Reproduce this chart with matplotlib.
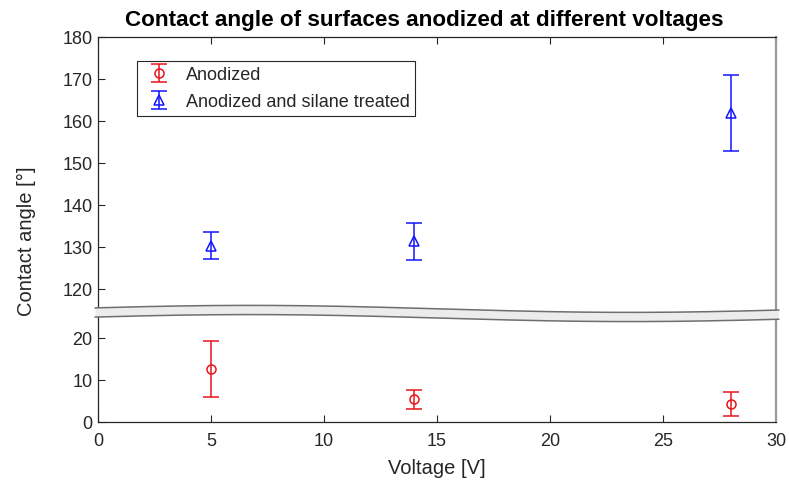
import numpy as np
import matplotlib
matplotlib.use("Agg")
import matplotlib.pyplot as plt
from matplotlib.patches import Polygon

plt.rcParams['font.family'] = ['Liberation Sans', 'DejaVu Sans']

# data
voltage = [5, 14, 28]
anodized = [12.7, 5.5, 4.4]
anodized_err = [6.6, 2.3, 2.8]
silane = [130.3, 131.4, 162.0]
silane_err = [3.2, 4.4, 9.0]

xticks = [0, 5, 10, 15, 20, 25, 30]
yticks = [0, 10, 20, 120, 130, 140, 150, 160, 170, 180]

# broken y axis: 25..115 squeezed into a small band
brk_in = [-1000, 25, 115, 1000]
brk_out = [-1000, 25, 26.76, 1000 - 88.24]

def fwd(y):
    return np.interp(y, brk_in, brk_out)

def inv(y):
    return np.interp(y, brk_out, brk_in)

dark = '#262626'
fig = plt.figure(figsize=(7.89, 4.90), dpi=100)
ax = fig.add_axes([0.1242, 0.1382, 0.8593, 0.7857])
ax.set_yscale('function', functions=(fwd, inv))

ax.errorbar(voltage, anodized, yerr=anodized_err, fmt='o', color='#e8141c',
            mfc='none', ms=6.5, mew=1.1, lw=1.1, capsize=6, capthick=1.1,
            label='Anodized')
ax.errorbar(voltage, silane, yerr=silane_err, fmt='^', color='#1414ff',
            mfc='none', ms=7.5, mew=1.1, lw=1.1, capsize=6, capthick=1.1,
            label='Anodized and silane treated')

ax.set_xlim(0, 30)
ax.set_ylim(0, 180)
ax.set_xticks(xticks)
ax.set_yticks(yticks)
ax.minorticks_off()
ax.tick_params(axis='x', direction='in', top=True, length=5, width=0.8,
               colors=dark, labelsize=13, pad=8)
ax.tick_params(axis='y', direction='in', right=False, length=5, width=0.8,
               colors=dark, labelsize=13, pad=4)
for s in ['left', 'bottom', 'top']:
    ax.spines[s].set_color(dark)
    ax.spines[s].set_linewidth(0.9)
ax.spines['right'].set_color('#9a9a9a')
ax.spines['right'].set_linewidth(1.6)

ax.set_xlabel('Voltage [V]', fontsize=14.5, color=dark, labelpad=6)
ax.set_ylabel('Contact angle [°]', fontsize=14.5, color=dark)
ax.yaxis.set_label_coords(-0.092, 0.47)
ax.set_title('Contact angle of surfaces anodized at different voltages',
             fontsize=16.2, fontweight='bold', color='black', pad=8, x=0.481)

# wavy break band drawn in axes coordinates
xs = np.linspace(-0.004, 1.004, 300)
px = 98 + xs * 678
c = 0.2826 + 3.5 / 385 * np.cos(2 * np.pi * (px - 250) / 760)
half = 4.6 / 385
top = c + half
bot = c - half
verts = np.concatenate([np.column_stack([xs, top]),
                        np.column_stack([xs[::-1], bot[::-1]])])
ax.add_patch(Polygon(verts, closed=True, transform=ax.transAxes,
                     facecolor='#ececec', edgecolor='none', clip_on=False,
                     zorder=5))
ax.plot(xs, top, color='#6e6e6e', lw=1.1, transform=ax.transAxes,
        clip_on=False, zorder=6)
ax.plot(xs, bot, color='#6e6e6e', lw=1.1, transform=ax.transAxes,
        clip_on=False, zorder=6)

leg = ax.legend(loc='upper left', bbox_to_anchor=(0.0575, 0.938), fontsize=13,
                frameon=True, fancybox=False, edgecolor=dark, framealpha=1,
                handlelength=1.8, handletextpad=0.6, borderpad=0.3,
                labelspacing=0.55, borderaxespad=0)
leg.get_frame().set_linewidth(0.8)
for t in leg.get_texts():
    t.set_color(dark)

fig.savefig('out.png', dpi=100)
